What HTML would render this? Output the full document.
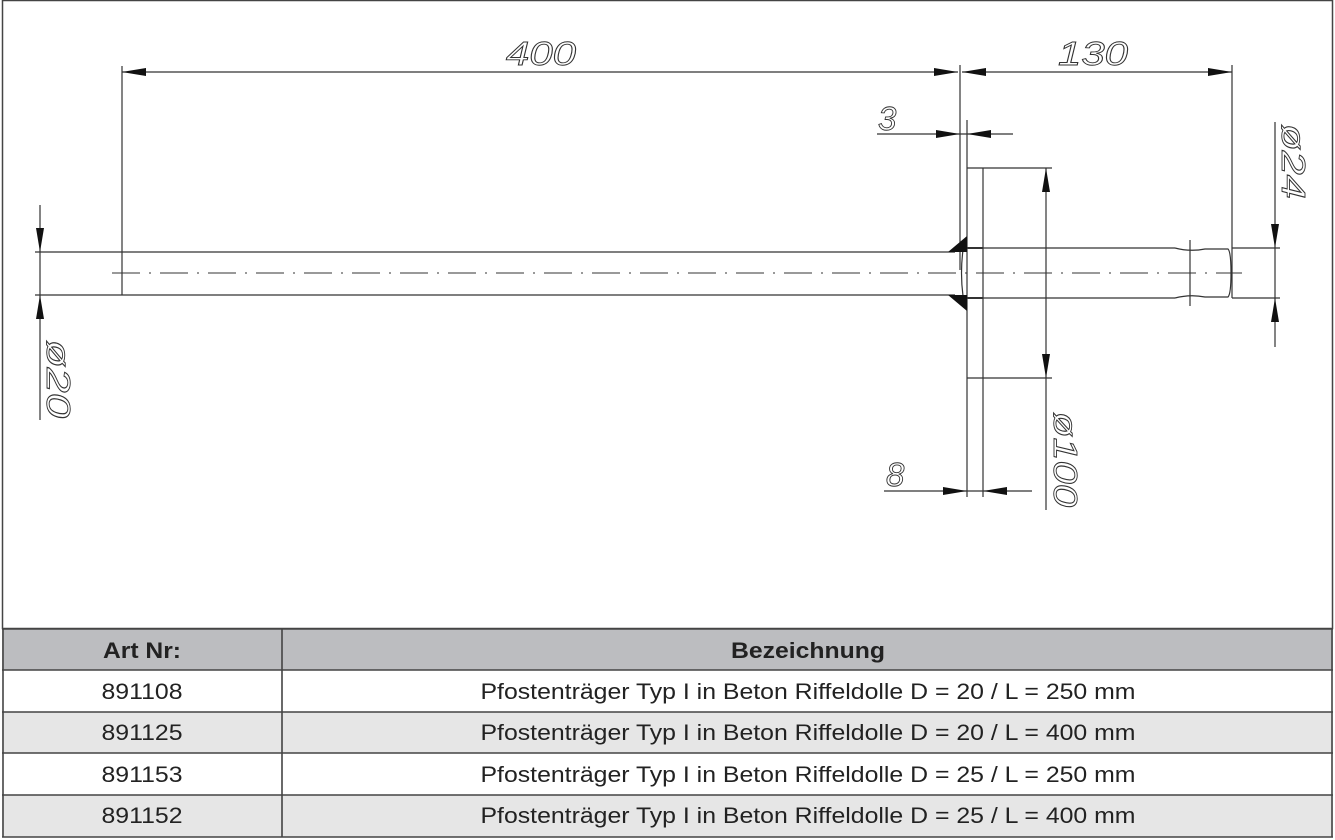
<!DOCTYPE html>
<html><head><meta charset="utf-8"><style>
html,body{margin:0;padding:0;background:#fff;}
svg{display:block;}
.dim{font-family:"Liberation Sans",sans-serif;font-style:italic;font-size:33px;fill:#fff;stroke:#333;stroke-width:0.9;}
.tb{font-family:"Liberation Sans",sans-serif;font-size:22px;fill:#222;}
</style></head><body>
<svg width="1335" height="840" viewBox="0 0 1335 840" xmlns="http://www.w3.org/2000/svg">
<rect x="2.5" y="0.5" width="1330" height="628" fill="#fff" stroke="#444" stroke-width="1.5"/>
<g stroke="#333" stroke-width="1.2" fill="none">
<line x1="35" y1="252" x2="955" y2="252"/>
<line x1="35" y1="295" x2="955" y2="295"/>
<line x1="967" y1="120" x2="967" y2="497"/>
<line x1="983" y1="168" x2="983" y2="497"/>
<line x1="967" y1="168" x2="1052" y2="168"/>
<line x1="967" y1="378" x2="1052" y2="378"/>
<line x1="983" y1="248" x2="1175" y2="248"/>
<line x1="983" y1="298" x2="1175" y2="298"/>
<path d="M1175 248 Q1190 252 1205 249 L1228 249 Q1231 252 1231 273 Q1231 294 1228 297 L1205 297 Q1190 294 1175 298"/>
<line x1="1190" y1="240" x2="1190" y2="306"/>
<line x1="1232" y1="248" x2="1280" y2="248"/>
<line x1="1232" y1="298" x2="1280" y2="298"/>
<path d="M963 250 Q960 273 963 296"/>
<line x1="963" y1="248" x2="983" y2="248" stroke-width="2"/>
<line x1="963" y1="298" x2="983" y2="298" stroke-width="2"/>
<line x1="122" y1="66" x2="122" y2="295"/>
<line x1="960" y1="65" x2="960" y2="270"/>
<line x1="1232" y1="65" x2="1232" y2="298"/>
<line x1="122" y1="72" x2="958" y2="72"/>
<line x1="962" y1="72" x2="1232" y2="72"/>
<line x1="877" y1="134" x2="1013" y2="134"/>
<line x1="884" y1="491" x2="1032" y2="491"/>
<line x1="1046" y1="168" x2="1046" y2="510"/>
<line x1="1275" y1="122" x2="1275" y2="347"/>
<line x1="40" y1="205" x2="40" y2="420"/>
<line x1="112" y1="273" x2="1242" y2="273" stroke-width="1" stroke-dasharray="28,9,2,9"/>
</g>
<polygon points="948,252 967,236 967,252" fill="#111"/>
<polygon points="948,295 967,311 967,295" fill="#111"/>
<g fill="#111">
<polygon points="122,72 146,68 146,76"/>
<polygon points="958,72 934,68 934,76"/>
<polygon points="962,72 986,68 986,76"/>
<polygon points="1232,72 1208,68 1208,76"/>
<polygon points="960,134 936,130 936,138"/>
<polygon points="967,134 991,130 991,138"/>
<polygon points="967,491 943,487 943,495"/>
<polygon points="983,491 1007,487 1007,495"/>
<polygon points="1046,168 1042,192 1050,192"/>
<polygon points="1046,378 1042,354 1050,354"/>
<polygon points="1275,248 1271,224 1279,224"/>
<polygon points="1275,298 1271,322 1279,322"/>
<polygon points="40,252 36,228 44,228"/>
<polygon points="40,295 36,319 44,319"/>
</g>
<text class="dim" x="506" y="65" textLength="70" lengthAdjust="spacingAndGlyphs">400</text>
<text class="dim" x="1058" y="65" textLength="70" lengthAdjust="spacingAndGlyphs">130</text>
<text class="dim" x="878" y="130">3</text>
<text class="dim" x="886" y="486">8</text>
<text class="dim" transform="translate(1054,412) rotate(90)" textLength="95" lengthAdjust="spacingAndGlyphs">ø100</text>
<text class="dim" transform="translate(1282,124) rotate(90)" textLength="75" lengthAdjust="spacingAndGlyphs">ø24</text>
<text class="dim" transform="translate(47,340) rotate(90)" textLength="78" lengthAdjust="spacingAndGlyphs">ø20</text>
<rect x="2" y="629" width="1331" height="41" fill="#bcbdc0"/>
<rect x="2" y="712" width="1331" height="41" fill="#e6e6e6"/>
<rect x="2" y="795" width="1331" height="42" fill="#e6e6e6"/>
<g stroke="#444" stroke-width="1.6">
<line x1="2" y1="629" x2="1333" y2="629"/>
<line x1="2" y1="670" x2="1333" y2="670"/>
<line x1="2" y1="712" x2="1333" y2="712"/>
<line x1="2" y1="753" x2="1333" y2="753"/>
<line x1="2" y1="795" x2="1333" y2="795"/>
<line x1="2" y1="837" x2="1333" y2="837"/>
<line x1="3" y1="629" x2="3" y2="837"/>
<line x1="1332" y1="629" x2="1332" y2="837"/>
<line x1="282" y1="629" x2="282" y2="837"/>
</g>
<g class="tb" text-anchor="middle">
<text x="142" y="658" font-weight="bold" textLength="78" lengthAdjust="spacingAndGlyphs">Art Nr:</text>
<text x="808" y="658" font-weight="bold" textLength="154" lengthAdjust="spacingAndGlyphs">Bezeichnung</text>
<text x="142" y="699" textLength="81" lengthAdjust="spacingAndGlyphs">891108</text>
<text x="142" y="740" textLength="81" lengthAdjust="spacingAndGlyphs">891125</text>
<text x="142" y="782" textLength="81" lengthAdjust="spacingAndGlyphs">891153</text>
<text x="142" y="823" textLength="81" lengthAdjust="spacingAndGlyphs">891152</text>
<text x="808" y="699" textLength="655" lengthAdjust="spacingAndGlyphs">Pfostenträger Typ I in Beton Riffeldolle D = 20 / L = 250 mm</text>
<text x="808" y="740" textLength="655" lengthAdjust="spacingAndGlyphs">Pfostenträger Typ I in Beton Riffeldolle D = 20 / L = 400 mm</text>
<text x="808" y="782" textLength="655" lengthAdjust="spacingAndGlyphs">Pfostenträger Typ I in Beton Riffeldolle D = 25 / L = 250 mm</text>
<text x="808" y="823" textLength="655" lengthAdjust="spacingAndGlyphs">Pfostenträger Typ I in Beton Riffeldolle D = 25 / L = 400 mm</text>
</g>
</svg>
</body></html>
